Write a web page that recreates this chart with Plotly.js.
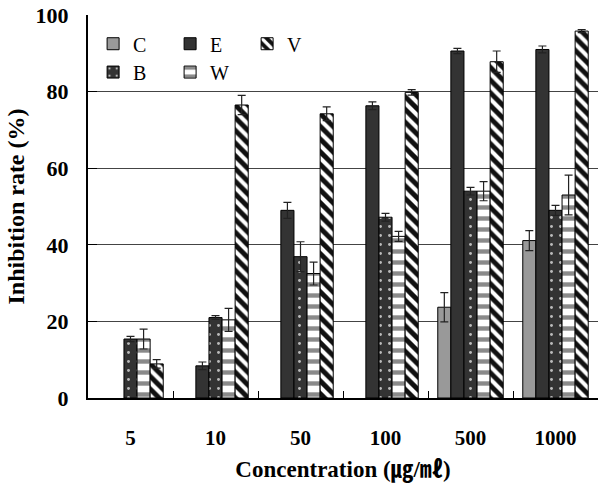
<!DOCTYPE html>
<html>
<head>
<meta charset="utf-8">
<script src="https://cdn.plot.ly/plotly-3.0.1.min.js"></script>
<style>html,body{margin:0;padding:0;background:#fff;}#chart{width:602px;height:488px;}</style>
</head>
<body>
<div id="chart"></div>
<script>
var categories = ["5", "10", "50", "100", "500", "1000"];
var seriesNames = ["C", "E", "B", "W", "V"];
var valC = [null, null, null, null, 23.7, 41.1];
var errC = [0, 0, 0, 0, 3.8, 2.6];
var valE = [null, 8.4, 49.0, 76.3, 90.6, 91.0];
var errE = [0, 1.0, 2.1, 1.0, 0.7, 0.9];
var valB = [15.4, 21.0, 36.9, 47.2, 54.0, 49.0];
var errB = [0.7, 0.5, 3.9, 1.0, 1.0, 1.3];
var valW = [15.4, 20.4, 32.5, 42.2, 54.0, 53.0];
var errW = [2.6, 3.0, 3.0, 1.3, 2.5, 5.2];
var valV = [8.9, 76.5, 74.2, 79.8, 87.8, 95.8];
var errV = [1.1, 2.5, 1.8, 0.7, 2.8, 0.4];
var yTicks = [0, 20, 40, 60, 80, 100];

var serif = "Liberation Serif, Times New Roman, serif";
var lineStyle = {color: "#000", width: 1};
function eb(arr) {
  return {type: "data", array: arr, visible: true, color: "#222", thickness: 1.2, width: 4};
}

var traces = [
  {name: seriesNames[0], x: categories, y: valC, type: "bar", error_y: eb(errC), legend: "legend",
   marker: {color: "#999999", line: lineStyle}},
  {name: seriesNames[1], x: categories, y: valE, type: "bar", error_y: eb(errE), legend: "legend",
   marker: {color: "#333333", line: lineStyle}},
  {name: seriesNames[2], x: categories, y: valB, type: "bar", error_y: eb(errB), legend: "legend2",
   marker: {color: "#333333", line: lineStyle,
            pattern: {shape: ".", bgcolor: "#333333", fgcolor: "#bbbbbb", size: 9, solidity: 0.08}}},
  {name: seriesNames[3], x: categories, y: valW, type: "bar", error_y: eb(errW), legend: "legend2",
   marker: {color: "#ffffff", line: lineStyle,
            pattern: {shape: "-", bgcolor: "#ffffff", fgcolor: "#8a8a8a", size: 11, solidity: 0.4}}},
  {name: seriesNames[4], x: categories, y: valV, type: "bar", error_y: eb(errV), legend: "legend",
   marker: {color: "#111111", line: lineStyle,
            pattern: {shape: "\\", bgcolor: "#111111", fgcolor: "#ffffff", size: 9, solidity: 0.45}}}
];

var legendCommon = {
  orientation: "h", xanchor: "left", yanchor: "middle",
  font: {family: serif, size: 20, color: "#000"},
  bgcolor: "rgba(0,0,0,0)", entrywidth: 32, entrywidthmode: "pixels",
  traceorder: "normal", itemclick: false
};

var layout = {
  width: 602, height: 488,
  margin: {l: 88, r: 4, t: 15, b: 90},
  paper_bgcolor: "#fff", plot_bgcolor: "#fff",
  barmode: "group", bargap: 0.23, bargroupgap: 0,
  font: {family: serif, color: "#000"},
  showlegend: true,
  legend: Object.assign({x: 0.01, y: 0.925}, legendCommon),
  legend2: Object.assign({x: 0.01, y: 0.851}, legendCommon),
  xaxis: {
    type: "category",
    showline: true, linecolor: "#000", linewidth: 2,
    ticks: "inside", tickson: "boundaries", ticklen: 7, tickcolor: "#000", tickwidth: 1,
    tickfont: {family: serif, size: 21, color: "#000", weight: "bold"},
    ticklabelstandoff: 20,
    showgrid: false, zeroline: false,
    title: {text: "Concentration (㎍/㎖)", font: {family: "Liberation Serif, Noto Sans CJK KR, serif", size: 23, color: "#000", weight: "bold"}, standoff: 12}
  },
  yaxis: {
    range: [0, 100], tickvals: yTicks, ticktext: yTicks.map(String),
    showline: true, linecolor: "#000", linewidth: 2,
    ticks: "inside", ticklen: 9, tickcolor: "#000", tickwidth: 1,
    tickfont: {family: serif, size: 22, color: "#000", weight: "bold"},
    ticklabelstandoff: 13,
    showgrid: true, gridcolor: "#444", gridwidth: 1, zeroline: false,
    title: {text: "Inhibition rate (%)", font: {family: serif, size: 24, color: "#000", weight: "bold"}, standoff: 4}
  }
};

Plotly.newPlot("chart", traces, layout, {staticPlot: true, displayModeBar: false});
</script>
</body>
</html>
